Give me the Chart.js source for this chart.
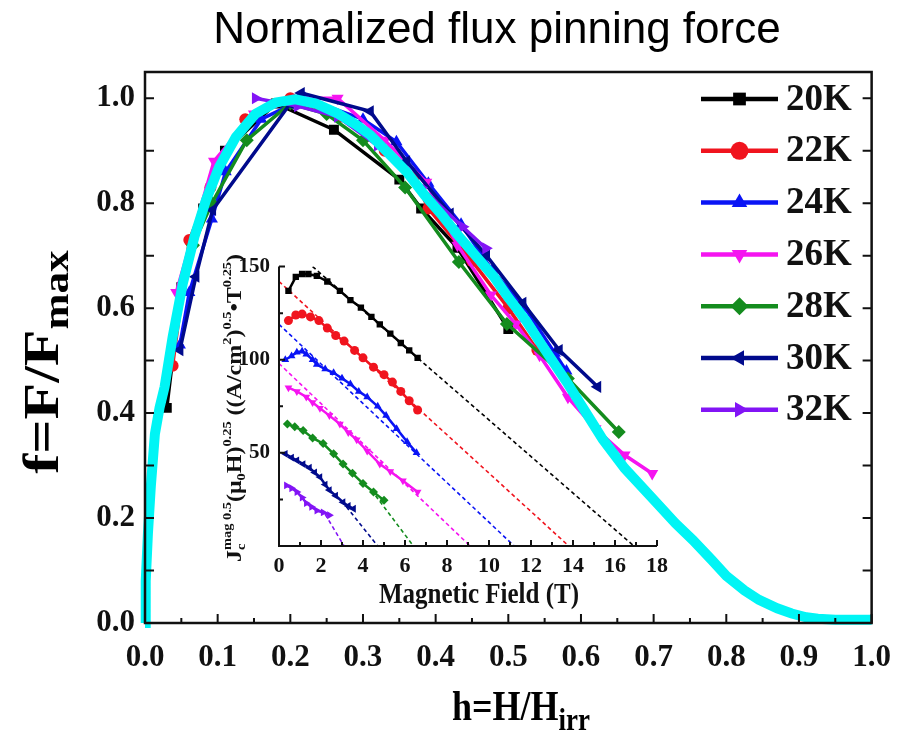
<!DOCTYPE html>
<html>
<head>
<meta charset="utf-8">
<script src="https://cdn.jsdelivr.net/npm/chart.js@4.4.1/dist/chart.umd.min.js"></script>
<style>
  body { margin: 0; background: #fff; }
  #wrap { position: relative; width: 907px; height: 735px; }
  #main { position: absolute; left: 0; top: 0; }
  #inset { position: absolute; left: 190px; top: 245px; }
</style>
</head>
<body>
<div id="wrap">
  <canvas id="main" width="907" height="735"></canvas>
  <canvas id="inset" width="490" height="370"></canvas>
</div>
<script>
// ---- main plot: f = F/Fmax vs h = H/Hirr ----
const temps = ['20K', '22K', '24K', '26K', '28K', '30K', '32K'];
const colors = ['#000000', '#f0141e', '#0a14f5', '#f514f0', '#148c1e', '#000a8c', '#8214f5'];
const markers = ['rect', 'circle', 'triangle', 'triangle', 'rectRot', 'triangle', 'triangle'];
const rotations = [0, 0, 0, 180, 0, 270, 90];

const h20 = [0.03, 0.05, 0.08, 0.11, 0.18, 0.26, 0.35, 0.38, 0.43, 0.50];
const f20 = [0.41, 0.64, 0.79, 0.90, 0.99, 0.94, 0.845, 0.79, 0.715, 0.56];
const h22 = [0.038, 0.061, 0.09, 0.138, 0.20, 0.27, 0.33, 0.37, 0.39, 0.45, 0.50, 0.54];
const f22 = [0.49, 0.73, 0.83, 0.96, 1.0, 0.965, 0.90, 0.85, 0.79, 0.69, 0.60, 0.52];
const h24 = [0.048, 0.061, 0.092, 0.111, 0.16, 0.22, 0.30, 0.346, 0.39, 0.435, 0.478, 0.523, 0.564, 0.58];
const f24 = [0.53, 0.63, 0.77, 0.86, 0.96, 1.0, 0.96, 0.917, 0.838, 0.76, 0.672, 0.60, 0.514, 0.48];
const h26 = [0.043, 0.095, 0.15, 0.21, 0.265, 0.33, 0.387, 0.43, 0.476, 0.51, 0.543, 0.582, 0.62, 0.66, 0.698];
const f26 = [0.63, 0.88, 0.97, 1.0, 1.0, 0.92, 0.84, 0.72, 0.625, 0.57, 0.51, 0.43, 0.37, 0.32, 0.285];
const h28 = [0.066, 0.092, 0.14, 0.20, 0.25, 0.30, 0.358, 0.432, 0.498, 0.582, 0.652];
const f28 = [0.72, 0.80, 0.92, 0.99, 0.97, 0.92, 0.83, 0.688, 0.57, 0.466, 0.364];
const h30 = [0.048, 0.07, 0.093, 0.20, 0.215, 0.31, 0.36, 0.42, 0.47, 0.52, 0.57, 0.623];
const f30 = [0.52, 0.66, 0.787, 0.99, 1.01, 0.975, 0.88, 0.78, 0.70, 0.61, 0.52, 0.45];
const h32 = [0.152, 0.21, 0.265, 0.32, 0.38, 0.437, 0.469];
const f32 = [1.0, 0.985, 0.965, 0.91, 0.83, 0.755, 0.714];

// cyan scaling curve
const hFit = [0, 0.001, 0.004, 0.008, 0.0136, 0.02, 0.027, 0.038, 0.052, 0.068, 0.084, 0.102, 0.125, 0.152, 0.18,
  0.207, 0.235, 0.265, 0.29, 0.31, 0.335, 0.36, 0.385, 0.41, 0.43, 0.455, 0.48, 0.50, 0.525, 0.546, 0.58, 0.605,
  0.63, 0.66, 0.70, 0.73, 0.754, 0.78, 0.80, 0.825, 0.845, 0.87, 0.89, 0.91, 0.926, 0.95, 0.975, 1.0];
const fFit = [0, 0.08, 0.17, 0.26, 0.36, 0.41, 0.45, 0.545, 0.647, 0.736, 0.806, 0.869, 0.926, 0.97, 0.992,
  0.998, 0.99, 0.971, 0.95, 0.93, 0.895, 0.86, 0.815, 0.775, 0.74, 0.70, 0.66, 0.62, 0.575, 0.53, 0.46, 0.405,
  0.35, 0.295, 0.235, 0.19, 0.158, 0.12, 0.09, 0.062, 0.044, 0.028, 0.018, 0.011, 0.008, 0.006, 0.006, 0.006];

const xTicks = [0, 0.1, 0.2, 0.3, 0.4, 0.5, 0.6, 0.7, 0.8, 0.9, 1.0];
const xMinor = [0.05, 0.15, 0.25, 0.35, 0.45, 0.55, 0.65, 0.75, 0.85, 0.95];
const yTicks = [0, 0.2, 0.4, 0.6, 0.8, 1.0];
const yMinor = [0.1, 0.3, 0.5, 0.7, 0.9];

// ---- inset: Jc^0.5 (mu0 H)^0.25 vs field ----
const b20 = [0.45, 0.8, 1.1, 1.4, 1.8, 2.3, 2.9, 3.4, 3.9, 4.4, 4.8, 5.3, 5.8, 6.2, 6.6];
const j20 = [137, 144.5, 146, 146, 145, 142, 137, 132, 128, 123, 119, 114, 109, 105, 101];
const b22 = [0.45, 0.8, 1.1, 1.5, 1.9, 2.3, 2.7, 3.1, 3.6, 4.0, 4.5, 5.0, 5.4, 5.8, 6.2, 6.6];
const j22 = [121, 124, 124.5, 123, 121, 117, 113, 110, 105, 101, 96, 92, 88, 83, 78, 73];
const b24 = [0.3, 0.6, 0.85, 1.1, 1.3, 1.6, 1.8, 2.2, 2.6, 3.0, 3.4, 3.8, 4.2, 4.7, 5.1, 5.6, 6.1, 6.55];
const j24 = [100, 102, 104, 104.5, 103, 100, 97.5, 95, 93, 90, 87, 83, 80, 75, 70, 63, 56, 50];
const b26 = [0.45, 0.85, 1.3, 1.6, 1.95, 2.4, 2.9, 3.3, 3.7, 4.2, 4.8, 5.3, 5.9, 6.6];
const j26 = [85, 83, 80, 77, 74, 70, 65.5, 61, 57, 51, 44, 40, 35, 29];
const b28 = [0.4, 0.75, 1.15, 1.6, 2.1, 2.6, 3.05, 3.5, 4.0, 4.5, 5.0];
const j28 = [65.5, 64, 62, 58, 55, 49.5, 44, 39, 33.5, 29, 24.5];
const b30 = [0.3, 0.6, 0.85, 1.15, 1.45, 1.7, 1.95, 2.2, 2.4, 2.7, 3.05, 3.3, 3.55];
const j30 = [49.5, 47.5, 46, 44, 42, 39.5, 37, 33, 30, 27, 23.5, 21.5, 20];
const b32 = [0.35, 0.6, 0.85, 1.1, 1.3, 1.55, 1.8, 2.1, 2.4];
const j32 = [32.5, 31, 29, 26, 23, 21, 19, 18, 16.5];

// dashed linear extrapolations (start point -> zero crossing)
const lineStartB = [1.6, 0, 0, 0, 4.4, 3.0, 2.2];
const lineStartJ = [150, 142, 119, 98, 30, 24, 17];
const lineZeroB = [16.9, 13.8, 11.2, 9.1, 6.4, 4.7, 3.1];

const fieldTicks = [0, 2, 4, 6, 8, 10, 12, 14, 16, 18];
const fieldMinor = [1, 3, 5, 7, 9, 11, 13, 15, 17];
const jTicks = [50, 100, 150];
const jMinor = [25, 75, 125];

const SERIF = "'Liberation Serif', 'Times New Roman', serif";
const STRETCH = 1.2; // the source figure is a little taller than wide

function pts(xs, ys) {
  return xs.map((v, i) => ({ x: v, y: ys[i] }));
}

function richWidth(ctx, parts) {
  let w = 0;
  parts.forEach(p => {
    ctx.font = p.font;
    if (!p.stack) w += ctx.measureText(p.t).width;
  });
  return w;
}

// draws text pieces with sub/superscripts, centred on x
function drawRich(ctx, parts, x, y) {
  let cx = x - richWidth(ctx, parts) / 2;
  parts.forEach(p => {
    ctx.font = p.font;
    ctx.fillText(p.t, cx, y + (p.dy || 0));
    if (!p.stack) cx += ctx.measureText(p.t).width;
  });
}

const mainSeries = [[h20, f20], [h22, f22], [h24, f24], [h26, f26], [h28, f28], [h30, f30], [h32, f32]];

const mainSets = [{
  label: 'fit',
  data: pts(hFit, fFit),
  borderColor: '#00f5f5',
  borderWidth: 10,
  pointRadius: 0,
  clip: false,
  order: 0
}];
mainSeries.forEach((s, i) => {
  mainSets.push({
    label: temps[i],
    data: pts(s[0], s[1]),
    borderColor: colors[i],
    backgroundColor: colors[i],
    borderWidth: 3.5,
    pointStyle: markers[i],
    pointRotation: rotations[i],
    pointRadius: markers[i] === 'circle' ? 6 : 7,
    pointBorderWidth: 0,
    order: 7 - i
  });
});

const mainDecor = {
  id: 'mainDecor',
  afterDraw(chart) {
    const { ctx, chartArea: a, scales: { x, y } } = chart;
    ctx.save();
    ctx.strokeStyle = '#111';
    ctx.lineWidth = 2;
    // inward ticks
    ctx.beginPath();
    xTicks.forEach(v => { const px = x.getPixelForValue(v); ctx.moveTo(px, a.bottom); ctx.lineTo(px, a.bottom - 9); });
    xMinor.forEach(v => { const px = x.getPixelForValue(v); ctx.moveTo(px, a.bottom); ctx.lineTo(px, a.bottom - 5); });
    yTicks.concat(yMinor).forEach(v => {
      const py = y.getPixelForValue(v);
      ctx.moveTo(a.left, py); ctx.lineTo(a.left + 9, py);
      ctx.moveTo(a.right, py); ctx.lineTo(a.right - 9, py);
    });
    ctx.stroke();
    ctx.lineWidth = 2.5;
    ctx.strokeRect(a.left, a.top, a.right - a.left, a.bottom - a.top);

    // legend
    const lx0 = 701, lx1 = 778, ly0 = 99, step = 51.8;
    temps.forEach((t, i) => {
      const ly = ly0 + i * step;
      ctx.strokeStyle = colors[i];
      ctx.fillStyle = colors[i];
      ctx.lineWidth = 4.5;
      ctx.beginPath();
      ctx.moveTo(lx0, ly); ctx.lineTo(lx1, ly);
      ctx.stroke();
      Chart.helpers.drawPoint(ctx, { pointStyle: markers[i], rotation: rotations[i], radius: 9, borderWidth: 0 }, (lx0 + lx1) / 2, ly);
      ctx.fillStyle = '#111';
      ctx.font = 'bold 37px ' + SERIF;
      ctx.textAlign = 'left';
      ctx.textBaseline = 'middle';
      ctx.fillText(t, 786, ly + 1);
    });

    // titles
    ctx.fillStyle = '#000';
    ctx.textBaseline = 'alphabetic';
    ctx.textAlign = 'center';
    ctx.font = "44px 'Liberation Sans', Arial, sans-serif";
    ctx.fillText('Normalized flux pinning force', 497, 43);
    ctx.textAlign = 'left';

    ctx.save();
    ctx.translate(0, 720);
    ctx.scale(1, STRETCH);
    drawRich(ctx, [
      { t: 'h=H/H', font: 'bold 36px ' + SERIF },
      { t: 'irr', font: 'bold 27px ' + SERIF, dy: 8 }
    ], 521, 0);
    ctx.restore();

    ctx.translate(58, 362);
    ctx.rotate(-Math.PI / 2);
    ctx.scale(STRETCH, 1);
    drawRich(ctx, [
      { t: 'f=F/F', font: 'bold 50px ' + SERIF },
      { t: 'max', font: 'bold 36px ' + SERIF, dy: 10 }
    ], 0, 0);
    ctx.restore();
  }
};

new Chart(document.getElementById('main'), {
  type: 'line',
  data: { datasets: mainSets },
  options: {
    responsive: false,
    animation: false,
    layout: { padding: { left: 0, right: 26, top: 72, bottom: 0 } },
    plugins: { legend: { display: false }, tooltip: { enabled: false } },
    scales: {
      x: {
        type: 'linear', min: 0, max: 1,
        afterFit: s => { s.height = 112; },
        afterBuildTicks: s => { s.ticks = xTicks.map(v => ({ value: v })); },
        grid: { display: false, drawTicks: false },
        border: { display: false },
        ticks: {
          color: '#111', padding: 16, maxRotation: 0, autoSkip: false,
          font: { family: SERIF, weight: 'bold', size: 31 },
          callback: v => v.toFixed(1)
        }
      },
      y: {
        type: 'linear', min: 0, max: 1.05,
        afterFit: s => { s.width = 145; },
        afterBuildTicks: s => { s.ticks = yTicks.map(v => ({ value: v })); },
        grid: { display: false, drawTicks: false },
        border: { display: false },
        ticks: {
          color: '#111', padding: 10,
          font: { family: SERIF, weight: 'bold', size: 31 },
          callback: v => v.toFixed(1)
        }
      }
    }
  },
  plugins: [mainDecor]
});

// ---- inset chart ----
const insetSeries = [[b20, j20], [b22, j22], [b24, j24], [b26, j26], [b28, j28], [b30, j30], [b32, j32]];
const insetSets = [];
insetSeries.forEach((s, i) => {
  insetSets.push({
    label: temps[i],
    data: pts(s[0], s[1]),
    borderColor: colors[i],
    backgroundColor: colors[i],
    borderWidth: 2.5,
    pointStyle: markers[i],
    pointRotation: rotations[i],
    pointRadius: 4.5,
    pointBorderWidth: 0,
    order: 1
  });
  insetSets.push({
    label: temps[i] + ' fit',
    data: pts([lineStartB[i], lineZeroB[i]], [lineStartJ[i], 0]),
    borderColor: colors[i],
    borderWidth: 1.6,
    borderDash: [4, 3],
    pointRadius: 0,
    order: 2
  });
});

const insetDecor = {
  id: 'insetDecor',
  afterDraw(chart) {
    const { ctx, chartArea: a, scales: { x, y } } = chart;
    ctx.save();
    ctx.strokeStyle = '#111';
    ctx.lineWidth = 2;
    ctx.beginPath();
    fieldTicks.forEach(v => { const px = x.getPixelForValue(v); ctx.moveTo(px, a.bottom); ctx.lineTo(px, a.bottom - 6); });
    fieldMinor.forEach(v => { const px = x.getPixelForValue(v); ctx.moveTo(px, a.bottom); ctx.lineTo(px, a.bottom - 4); });
    jTicks.forEach(v => { const py = y.getPixelForValue(v); ctx.moveTo(a.left, py); ctx.lineTo(a.left + 6, py); });
    jMinor.forEach(v => { const py = y.getPixelForValue(v); ctx.moveTo(a.left, py); ctx.lineTo(a.left + 4, py); });
    ctx.moveTo(a.left, a.top); ctx.lineTo(a.left, a.bottom); ctx.lineTo(a.right, a.bottom);
    ctx.stroke();

    ctx.fillStyle = '#111';
    ctx.textAlign = 'left';
    ctx.textBaseline = 'alphabetic';
    ctx.save();
    ctx.translate(0, 358);
    ctx.scale(1, STRETCH);
    drawRich(ctx, [{ t: 'Magnetic Field (T)', font: 'bold 25px ' + SERIF }], 289, 0);
    ctx.restore();

    ctx.translate(51, 163);
    ctx.rotate(-Math.PI / 2);
    ctx.scale(STRETCH, 1);
    const big = 'bold 20px ' + SERIF, sm = 'bold 12px ' + SERIF;
    drawRich(ctx, [
      { t: 'J', font: big },
      { t: 'c', font: sm, dy: 4, stack: true },
      { t: 'mag 0.5', font: sm, dy: -10 },
      { t: '(\u03bc', font: big },
      { t: '0', font: sm, dy: 4 },
      { t: 'H)', font: big },
      { t: '0.25', font: sm, dy: -10 },
      { t: ' ((A/cm', font: big },
      { t: '2', font: sm, dy: -10 },
      { t: ')', font: big },
      { t: '0.5', font: sm, dy: -10 },
      { t: '\u2022T', font: big },
      { t: '0.25', font: sm, dy: -10 },
      { t: ')', font: big }
    ], 0, 0);
    ctx.restore();
  }
};

new Chart(document.getElementById('inset'), {
  type: 'line',
  data: { datasets: insetSets },
  options: {
    responsive: false,
    animation: false,
    layout: { padding: { left: 0, right: 23, top: 20, bottom: 0 } },
    plugins: { legend: { display: false }, tooltip: { enabled: false } },
    scales: {
      x: {
        type: 'linear', min: 0, max: 18,
        afterFit: s => { s.height = 69; },
        afterBuildTicks: s => { s.ticks = fieldTicks.map(v => ({ value: v })); },
        grid: { display: false, drawTicks: false },
        border: { display: false },
        ticks: { color: '#111', padding: 7, maxRotation: 0, autoSkip: false, font: { family: SERIF, weight: 'bold', size: 22 } }
      },
      y: {
        type: 'linear', min: 0, max: 150,
        afterFit: s => { s.width = 89; },
        afterBuildTicks: s => { s.ticks = jTicks.map(v => ({ value: v })); },
        grid: { display: false, drawTicks: false },
        border: { display: false },
        ticks: { color: '#111', padding: 9, font: { family: SERIF, weight: 'bold', size: 21 } }
      }
    }
  },
  plugins: [insetDecor]
});
</script>
</body>
</html>
